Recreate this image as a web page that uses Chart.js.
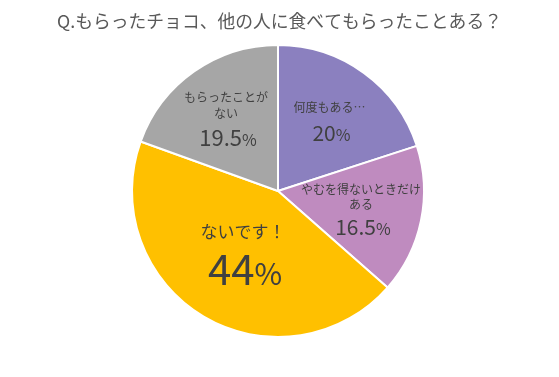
<!DOCTYPE html>
<html><head><meta charset="utf-8">
<script src="https://cdn.jsdelivr.net/npm/chart.js@4"></script>
<style>html,body{margin:0;padding:0;background:#fff;}#wrap{width:559px;height:377px;}</style>
</head><body><div id="wrap"><canvas id="c" width="559" height="377"></canvas></div>
<script>
const titleText = "Q.もらったチョコ、他の人に食べてもらったことある？";
const categories = ["何度もある…", "やむを得ないときだけある", "ないです！", "もらったことがない"];
const labelLines = [["何度もある…"], ["やむを得ないときだけ", "ある"], ["ないです！"], ["もらったことが", "ない"]];
const values = [20, 16.5, 44, 19.5];
const colors = ["#8b80bf", "#bf8bbf", "#ffc000", "#a6a6a6"];

const FONT = '"Noto Sans CJK JP", "Noto Sans", sans-serif';
// layout per slice: radial fraction, label font size, pct digit size, pct % size, line offsets
const layoutCfg = [
  {frac: 0.60, lf: 12, pd: 21, pp: 16, offs: [-13, 13], dx: 0},
  {frac: 0.58, lf: 12, pd: 21, pp: 16, offs: [-19, -4, 19], dx: 0},
  {frac: 0.47, lf: 17, pd: 42, pp: 30, offs: [-19, 20], dx: 0},
  {frac: 0.62, lf: 12, pd: 22, pp: 16, offs: [-20, -4, 21], dx: 0}
];

function drawPct(ctx, x, y, val, dSize, pSize) {
  const num = String(val);
  ctx.font = dSize + 'px ' + FONT;
  const w1 = ctx.measureText(num).width;
  ctx.font = pSize + 'px ' + FONT;
  const w2 = ctx.measureText('%').width;
  const start = x - (w1 + w2) / 2;
  ctx.textAlign = 'left';
  ctx.textBaseline = 'alphabetic';
  const base = y + dSize * 0.36;
  ctx.font = dSize + 'px ' + FONT;
  ctx.fillText(num, start, base);
  ctx.font = pSize + 'px ' + FONT;
  ctx.fillText('%', start + w1, base);
}

const labelPlugin = {
  id: 'labels',
  afterDatasetsDraw(chart) {
    const ctx = chart.ctx;
    ctx.save();
    ctx.fillStyle = '#595959';
    ctx.font = '17.8px ' + FONT;
    ctx.textAlign = 'center';
    ctx.textBaseline = 'middle';
    ctx.fillText(titleText, chart.width / 2, 21);
    const meta = chart.getDatasetMeta(0);
    meta.data.forEach((arc, i) => {
      const p = arc.getProps(['x', 'y', 'startAngle', 'endAngle', 'outerRadius'], true);
      const mid = (p.startAngle + p.endAngle) / 2;
      const r = p.outerRadius * layoutCfg[i].frac;
      const cx = p.x + Math.cos(mid) * r + layoutCfg[i].dx;
      const cy = p.y + Math.sin(mid) * r;
      const cfg = layoutCfg[i];
      ctx.fillStyle = '#404040';
      const lines = labelLines[i];
      lines.forEach((ln, j) => {
        ctx.font = cfg.lf + 'px ' + FONT;
        ctx.textAlign = 'center';
        ctx.textBaseline = 'middle';
        ctx.fillText(ln, cx, cy + cfg.offs[j]);
      });
      drawPct(ctx, cx + 2, cy + cfg.offs[lines.length], values[i], cfg.pd, cfg.pp);
    });
    ctx.restore();
  }
};

new Chart(document.getElementById('c'), {
  type: 'pie',
  data: {
    labels: categories,
    datasets: [{data: values, backgroundColor: colors, borderColor: '#ffffff', borderWidth: 2}]
  },
  options: {
    responsive: false,
    animation: false,
    layout: {padding: {top: 44, bottom: 39, left: 0, right: 3}},
    plugins: {legend: {display: false}, tooltip: {enabled: false}, title: {display: false}}
  },
  plugins: [labelPlugin]
});
</script></body></html>
